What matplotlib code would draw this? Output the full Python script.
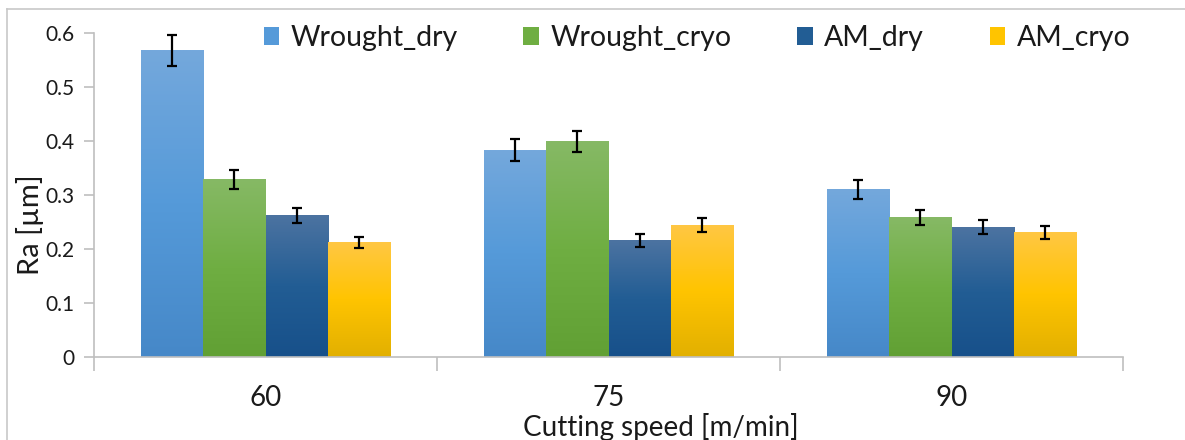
import numpy as np
import matplotlib
matplotlib.use("Agg")
import matplotlib.pyplot as plt
from matplotlib.colors import LinearSegmentedColormap
from matplotlib.patches import Rectangle
from matplotlib.lines import Line2D

plt.rcParams['font.family'] = ['Lato', 'DejaVu Sans']

# data
speeds = ["60", "75", "90"]
series = ["Wrought_dry", "Wrought_cryo", "AM_dry", "AM_cryo"]
wrought_dry = [0.567, 0.383, 0.310]
wrought_cryo = [0.329, 0.399, 0.259]
am_dry = [0.262, 0.215, 0.240]
am_cryo = [0.212, 0.244, 0.230]
err_wrought_dry = [0.029, 0.020, 0.017]
err_wrought_cryo = [0.017, 0.020, 0.014]
err_am_dry = [0.014, 0.012, 0.013]
err_am_cryo = [0.010, 0.013, 0.012]

values = [wrought_dry, wrought_cryo, am_dry, am_cryo]
errors = [err_wrought_dry, err_wrought_cryo, err_am_dry, err_am_cryo]

# gradient colours: bottom, middle, top (excel style fill)
grads = [
    ["#4688c8", "#559ad9", "#74a8dc"],
    ["#61a034", "#6fae42", "#86b965"],
    ["#17508a", "#225d94", "#4c73a1"],
    ["#e2b000", "#ffc400", "#ffc743"],
]
solid = ["#559ad9", "#6fae42", "#225d94", "#ffc400"]

fig = plt.figure(figsize=(11.85, 4.4), dpi=100)
ax = fig.add_axes([94 / 1185, 1 - 357 / 440, (1123 - 94) / 1185, (357 - 33) / 440])

x = np.arange(len(speeds))
width = 0.182
grad_img = np.linspace(0, 1, 200).reshape(-1, 1)

for i, (vals, errs) in enumerate(zip(values, errors)):
    pos = x + (i - 1.5) * width
    cmap = LinearSegmentedColormap.from_list("g%d" % i, grads[i])
    bars = ax.bar(pos, vals, width, facecolor="none", linewidth=0, zorder=2)
    for b in bars:
        bx, by = b.get_xy()
        ax.imshow(grad_img, extent=[bx, bx + b.get_width(), 0, b.get_height()],
                  origin="lower", aspect="auto", cmap=cmap, zorder=1.5,
                  interpolation="bilinear")
    ax.errorbar(pos, vals, yerr=errs, fmt="none", ecolor="black",
                elinewidth=1.6, capsize=3.5, capthick=1.6, zorder=3)

ax.set_xlim(-0.5, 2.5)
ax.set_ylim(0, 0.6)
ax.set_yticks(np.arange(0, 0.61, 0.1))
ax.set_yticklabels(["0", "0.1", "0.2", "0.3", "0.4", "0.5", "0.6"])
ax.set_xticks(x)
ax.set_xticklabels(speeds)
ax.set_xticks([-0.5, 0.5, 1.5, 2.5], minor=True)

for s in ["top", "right"]:
    ax.spines[s].set_visible(False)
for s in ["left", "bottom"]:
    ax.spines[s].set_color("#bfbfbf")
    ax.spines[s].set_linewidth(1.2)

ax.tick_params(axis="y", length=7, width=1.2, color="#bfbfbf", labelsize=15,
               labelcolor="#1a1a1a", pad=7)
ax.tick_params(axis="x", which="major", length=0, labelsize=20, labelcolor="#1a1a1a", pad=20)
ax.tick_params(axis="x", which="minor", length=10, width=1.2, color="#bfbfbf")

fig.text(661 / 1185, 1 - 427 / 440, "Cutting speed [m/min]", fontsize=20,
         color="#1a1a1a", ha="center", va="center")
fig.text(30 / 1185, 1 - 225 / 440, "Ra [µm]", fontsize=21, color="#1a1a1a",
         rotation=90, ha="center", va="center")

handles = [Rectangle((0, 0), 1, 1, facecolor=c) for c in solid]
leg = fig.legend(handles, series, ncol=4, loc="center",
                 bbox_to_anchor=(697 / 1185, 1 - 38 / 440), frameon=False,
                 fontsize=20.5, handlelength=0.55, handleheight=0.55,
                 handletextpad=0.4, columnspacing=2.3)
for t in leg.get_texts():
    t.set_color("#1a1a1a")

# thin grey border of the chart area
fig.add_artist(Line2D([7 / 1185, 7 / 1185], [0, 1 - 9 / 440], transform=fig.transFigure,
                      color="#c8c8c8", linewidth=1.2))
fig.add_artist(Line2D([7 / 1185, 1], [1 - 9 / 440, 1 - 9 / 440], transform=fig.transFigure,
                      color="#c8c8c8", linewidth=1.2))

fig.savefig("out.png", dpi=100)
